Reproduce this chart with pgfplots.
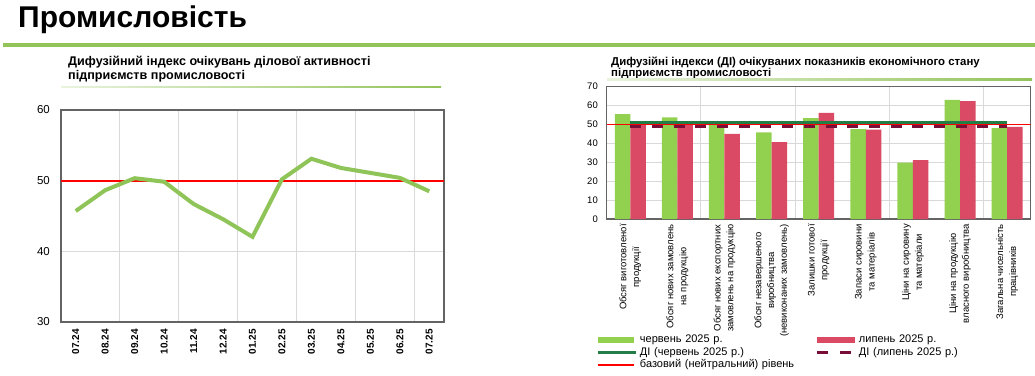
\documentclass[border=0pt]{standalone}
\usepackage{pgfplots}
\pgfplotsset{compat=1.18}
\usepackage{fontspec}
\setmainfont{Liberation Sans}
\definecolor{lineG}{RGB}{143,196,88}
\definecolor{barG}{RGB}{146,208,80}
\definecolor{barR}{RGB}{218,74,100}
\definecolor{diG}{RGB}{34,125,70}
\definecolor{diR}{RGB}{120,14,56}
\definecolor{ruleG}{RGB}{146,196,90}
\definecolor{gridc}{RGB}{217,217,217}
\definecolor{framec}{RGB}{100,100,100}
\begin{document}
\begin{tikzpicture}
\path[use as bounding box] (0,0) rectangle (1035pt,375pt);
\fill[white] (0,0) rectangle (1035pt,375pt);
\node[anchor=base west, inner sep=0pt, font=\fontsize{30}{36}\selectfont\bfseries] at (18pt,347pt) {Промисловість};
\draw[ruleG, line width=4pt] (3pt,330pt) -- (1035pt,330pt);
% left title
\node[anchor=base west, inner sep=0pt, font=\fontsize{12.6}{14.5}\selectfont\bfseries] at (68pt,309.5pt) {Дифузійний індекс очікувань ділової активності};
\node[anchor=base west, inner sep=0pt, font=\fontsize{12.6}{14.5}\selectfont\bfseries] at (68pt,295pt) {підприємств промисловості};
\shade[left color=ruleG!20, right color=ruleG] (61pt,287.3pt) rectangle (441pt,288.7pt);
% right title
\node[anchor=base west, inner sep=0pt, font=\fontsize{11.4}{13}\selectfont\bfseries] at (611pt,309.7pt) {Дифузійні індекси (ДІ) очікуваних показників економічного стану};
\node[anchor=base west, inner sep=0pt, font=\fontsize{11.4}{13}\selectfont\bfseries] at (611pt,298.8pt) {підприємств промисловості};
\shade[left color=ruleG!20, right color=ruleG] (607pt,294.8pt) rectangle (1032pt,296.2pt);

\begin{axis}[at={(61pt,53pt)}, anchor=south west, scale only axis,
  width=383pt, height=212pt,
  xmin=-0.5, xmax=12.5, ymin=30, ymax=60,
  ytick={30,40,50,60},
  xtick={0,...,12},
  xticklabels={07.24,08.24,09.24,10.24,11.24,12.24,01.25,02.25,03.25,04.25,05.25,06.25,07.25},
  minor xtick={1.5,3.5,5.5,7.5,9.5,11.5},
  xminorgrids, ymajorgrids,
  grid style={gridc, line width=1pt},
  minor grid style={gridc, line width=1pt},
  major tick length=0pt, minor tick length=0pt,
  axis line style={framec, line width=1.2pt},
  /pgf/number format/assume math mode=true,
  xticklabel style={yshift=-7pt, rotate=90, anchor=east, inner sep=0pt, font=\fontsize{10}{12}\selectfont\bfseries},
  yticklabel style={xshift=-11pt, anchor=east, inner sep=0pt, font=\fontsize{11.5}{13}\selectfont},
]
\addplot[red, line width=2pt] coordinates {(-0.5,50) (12.5,50)};
\addplot[lineG, line width=4pt] coordinates {
(0,45.7) (1,48.65) (2,50.35) (3,49.85) (4,46.7) (5,44.55) (6,42.05) (7,50.2) (8,53.1) (9,51.8) (10,51.1) (11,50.4) (12,48.5)};
\end{axis}

\begin{axis}[at={(606.7pt,156pt)}, anchor=south west, scale only axis,
  width=424pt, height=132.3pt,
  xmin=-0.5, xmax=8.5, ymin=0, ymax=70,
  ytick={0,10,...,70},
  xtick={0,...,8},
  xticklabels={{Обсяг виготовленої\\продукції},{Обсяг нових замовлень\\на продукцію},{Обсяг нових експортних\\замовлень на продукцію},{Обсяг незавершеного\\виробництва\\(невиконаних замовлень)},{Залишки готової\\продукції},{Запаси сировини\\та матеріалів},{Ціни на сировину\\та матеріали},{Ціни на продукцію\\власного виробництва},{Загальна чисельність\\працівників}},
  minor xtick={1.5,3.5,5.5,7.5},
  xminorgrids, ymajorgrids,
  grid style={gridc, line width=1pt},
  minor grid style={gridc, line width=1pt},
  major tick length=0pt, minor tick length=0pt,
  axis line style={framec, line width=1.5pt},
  /pgf/number format/assume math mode=true,
  xticklabel style={yshift=-5pt, rotate=90, anchor=east, inner sep=0pt, align=center, font=\fontsize{9.5}{12.8}\selectfont},
  yticklabel style={xshift=-8.7pt, anchor=east, inner sep=0pt, font=\fontsize{9.5}{11}\selectfont},
  legend style={at={(axis description cs:-0.0229,-0.8655)}, anchor=north west, draw=none, fill=none,
    inner sep=0pt, outer sep=0pt, font=\fontsize{11}{13}\selectfont, legend columns=2,
    row sep=0pt, nodes={inner sep=1pt, text height=8pt, text depth=2.5pt, text width=160pt, align=left},
    /tikz/every odd column/.append style={column sep=1pt},
    /tikz/every even column/.append style={column sep=15pt}},
  legend cell align=left,
]
\addplot[ybar, fill=barG, draw=none, bar width=15.5pt, bar shift=-7.75pt,
  legend image code/.code={\fill[barG] (0pt,-3pt) rectangle (36pt,3pt);}]
  coordinates {(0,55.5) (1,53.8) (2,50.1) (3,45.9) (4,53.4) (5,47.6) (6,29.8) (7,63.0) (8,48.1)};
\addlegendentry{червень 2025 р.}
\addplot[ybar, fill=barR, draw=none, bar width=15.5pt, bar shift=7.75pt,
  legend image code/.code={\fill[barR] (0pt,-3pt) rectangle (38pt,3pt);}]
  coordinates {(0,51.8) (1,51.1) (2,45.1) (3,40.7) (4,56.1) (5,47.3) (6,31.2) (7,62.4) (8,48.7)};
\addlegendentry{липень 2025 р.}
\addplot[diG, line width=3pt,
  legend image code/.code={\draw[diG, line width=3pt] (0pt,0pt) -- (38pt,0pt);}]
  coordinates {(0,51) (1,51) (2,51) (3,51) (4,51) (5,51) (6,51) (7,51) (8,51)};
\addlegendentry{ДІ (червень 2025 р.)}
\addplot[diR, line width=3pt, dash pattern=on 11pt off 10.7pt,
  legend image code/.code={\draw[diR, line width=3pt, dash pattern=on 11pt off 12pt] (0pt,0pt) -- (38pt,0pt);}]
  coordinates {(0,48.9) (1,48.9) (2,48.9) (3,48.9) (4,48.9) (5,48.9) (6,48.9) (7,48.9) (8,48.9)};
\addlegendentry{ДІ (липень 2025 р.)}
\addplot[red, line width=1.8pt,
  legend image code/.code={\draw[red, line width=1.5pt] (0pt,0pt) -- (36pt,0pt);}]
  coordinates {(-0.5,50) (8.5,50)};
\addlegendentry{базовий (нейтральний) рівень}
\end{axis}
\end{tikzpicture}
\end{document}
